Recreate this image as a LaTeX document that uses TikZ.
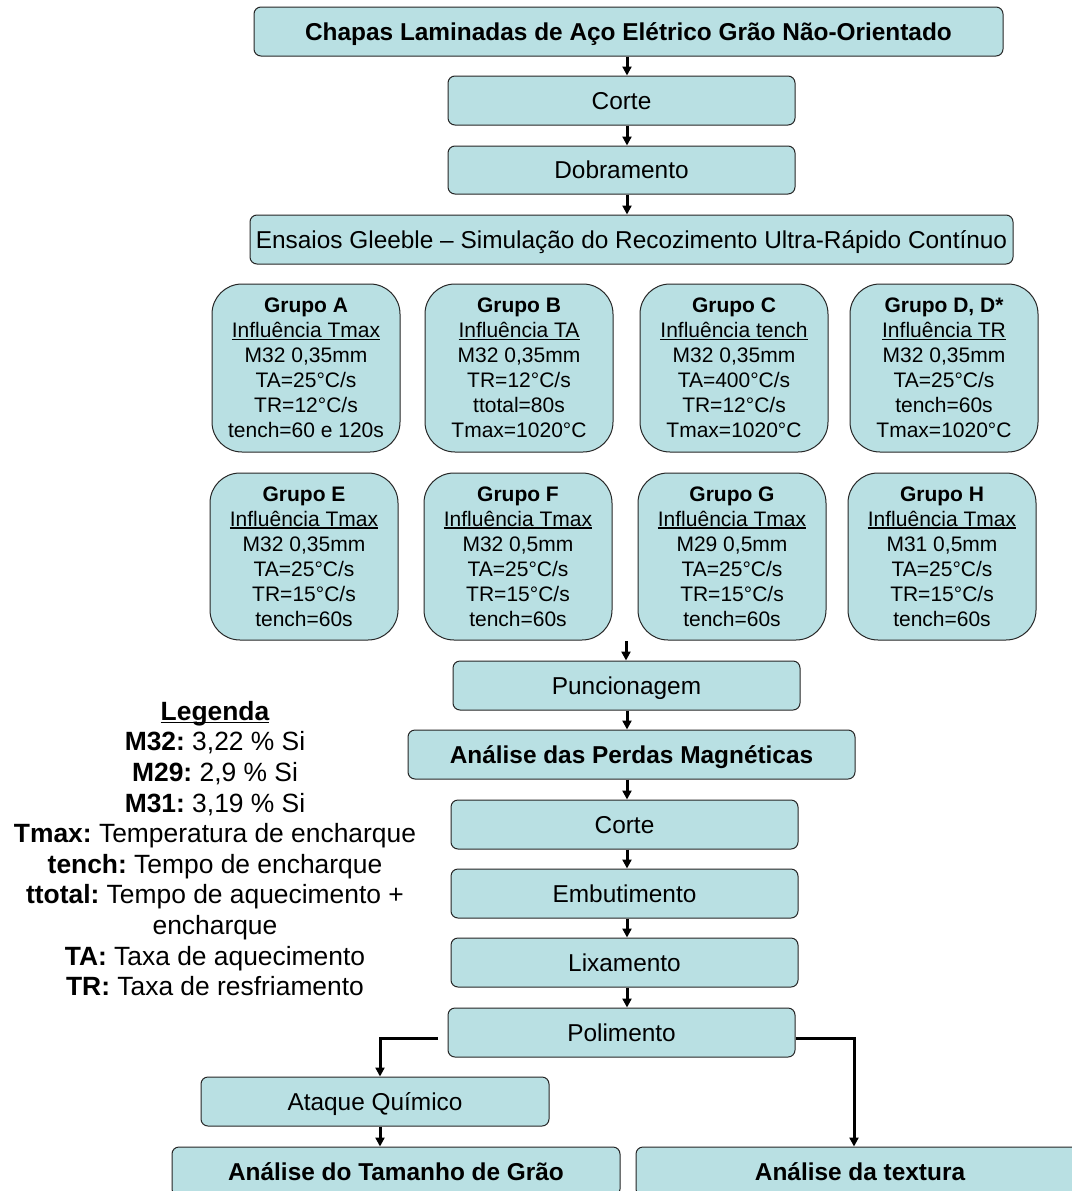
\documentclass[tikz,border=0pt]{standalone}
\usepackage{fontspec}
\setmainfont{Liberation Sans}
\usetikzlibrary{arrows.meta}
\definecolor{boxfill}{RGB}{185,224,227}
\newsavebox\myulbox
\newcommand\myul[1]{\sbox\myulbox{#1}\rlap{\rule[-2.6pt]{\wd\myulbox}{1.4pt}}\usebox\myulbox}
\frenchspacing
\begin{document}
\frenchspacing
\begin{tikzpicture}[x=1pt,y=-1pt,
  mainbox/.style={draw=black!85,line width=1pt,fill=boxfill,rounded corners=7pt,
    minimum height=49pt,minimum width=347pt,inner sep=0pt,
    font=\fontsize{24.4}{28}\selectfont,text height=17.5pt,text depth=0pt},
  boldbox/.style={mainbox,font=\bfseries\fontsize{24.4}{28}\selectfont},
  grp/.style={draw=black!85,line width=1pt,fill=boxfill,rounded corners=30pt,
    minimum width=188pt,minimum height=168pt,inner sep=0pt,align=center,
    font=\fontsize{21}{25}\selectfont},
  arr/.style={line width=3pt,-{Triangle[length=9pt,width=9pt]}}]
\useasboundingbox (0,0) rectangle (1071,1191);
\fill[white] (0,0) rectangle (1071,1191);

\coordinate (cx) at (627,0);
\coordinate (lx) at (380,0);
\coordinate (rx) at (854,0);

\node[boldbox,minimum width=749pt] (top) at (628.5,31.5) {Chapas Laminadas de Aço Elétrico Grão Não-Orientado};
\node[mainbox] (corte1) at (621.5,100.5) {Corte};
\node[mainbox,minimum height=48pt] (dobr) at (621.5,170) {Dobramento};
\node[mainbox,minimum width=763pt] (ens) at (631.5,239.5) {Ensaios Gleeble – Simulação do Recozimento Ultra-Rápido Contínuo};

\node[grp] (gA) at (306,368) {\textbf{Grupo A}\\\myul{Influência Tmax}\\M32 0,35mm\\TA=25°C/s\\TR=12°C/s\\tench=60 e 120s};
\node[grp] (gB) at (519,368) {\textbf{Grupo B}\\\myul{Influência TA}\\M32 0,35mm\\TR=12°C/s\\ttotal=80s\\Tmax=1020°C};
\node[grp] (gC) at (734,368) {\textbf{Grupo C}\\\myul{Influência tench}\\M32 0,35mm\\TA=400°C/s\\TR=12°C/s\\Tmax=1020°C};
\node[grp] (gD) at (944,368) {\textbf{Grupo D, D*}\\\myul{Influência TR}\\M32 0,35mm\\TA=25°C/s\\tench=60s\\Tmax=1020°C};

\node[grp,minimum height=167pt] (gE) at (304,556.5) {\textbf{Grupo E}\\\myul{Influência Tmax}\\M32 0,35mm\\TA=25°C/s\\TR=15°C/s\\tench=60s};
\node[grp,minimum height=167pt] (gF) at (518,556.5) {\textbf{Grupo F}\\\myul{Influência Tmax}\\M32 0,5mm\\TA=25°C/s\\TR=15°C/s\\tench=60s};
\node[grp,minimum height=167pt] (gG) at (732,556.5) {\textbf{Grupo G}\\\myul{Influência Tmax}\\M29 0,5mm\\TA=25°C/s\\TR=15°C/s\\tench=60s};
\node[grp,minimum height=167pt] (gH) at (942,556.5) {\textbf{Grupo H}\\\myul{Influência Tmax}\\M31 0,5mm\\TA=25°C/s\\TR=15°C/s\\tench=60s};

\coordinate (gend) at (626,641);

\node[mainbox] (punc) at (626.5,685.5) {Puncionagem};
\node[boldbox,minimum width=447pt] (perdas) at (631.5,754.5) {Análise das Perdas Magnéticas};
\node[mainbox] (corte2) at (624.5,824.5) {Corte};
\node[mainbox] (embut) at (624.5,893.5) {Embutimento};
\node[mainbox] (lixa) at (624.5,962.5) {Lixamento};
\node[mainbox] (poli) at (621.5,1032.5) {Polimento};
\node[mainbox,minimum width=348pt] (ataque) at (375,1101.5) {Ataque Químico};
\node[boldbox,minimum width=448pt,minimum height=49pt] (tam) at (396,1171.5) {Análise do Tamanho de Grão};
\node[boldbox,minimum width=448pt,minimum height=49pt] (tex) at (860,1171.5) {Análise da textura};

\coordinate (pl) at (438,1038);

\node[anchor=north,align=center,inner sep=0pt,font=\fontsize{26.4}{30.6}\selectfont] (leg) at (215,701)
 {\textbf{\myul{Legenda}}\\
  \textbf{M32:} 3,22 \% Si\\
  \textbf{M29:} 2,9 \% Si\\
  \textbf{M31:} 3,19 \% Si\\
  \textbf{Tmax:} Temperatura de encharque\\
  \textbf{tench:} Tempo de encharque\\
  \textbf{ttotal:} Tempo de aquecimento +\\
  encharque\\
  \textbf{TA:} Taxa de aquecimento\\
  \textbf{TR:} Taxa de resfriamento};

\draw[arr] (top.south -| cx) -- (corte1.north -| cx);
\draw[arr] (corte1.south -| cx) -- (dobr.north -| cx);
\draw[arr] (dobr.south -| cx) -- (ens.north -| cx);
\draw[arr] (gend) -- (punc.north -| gend);
\draw[arr] (punc.south -| cx) -- (perdas.north -| cx);
\draw[arr] (perdas.south -| cx) -- (corte2.north -| cx);
\draw[arr] (corte2.south -| cx) -- (embut.north -| cx);
\draw[arr] (embut.south -| cx) -- (lixa.north -| cx);
\draw[arr] (lixa.south -| cx) -- (poli.north -| cx);
\draw[arr] (pl) -| (ataque.north -| lx);
\draw[arr] ([yshift=-5.5pt]poli.east) -| (tex.north -| rx);
\draw[arr] (ataque.south -| lx) -- (tam.north -| lx);
\end{tikzpicture}
\end{document}
